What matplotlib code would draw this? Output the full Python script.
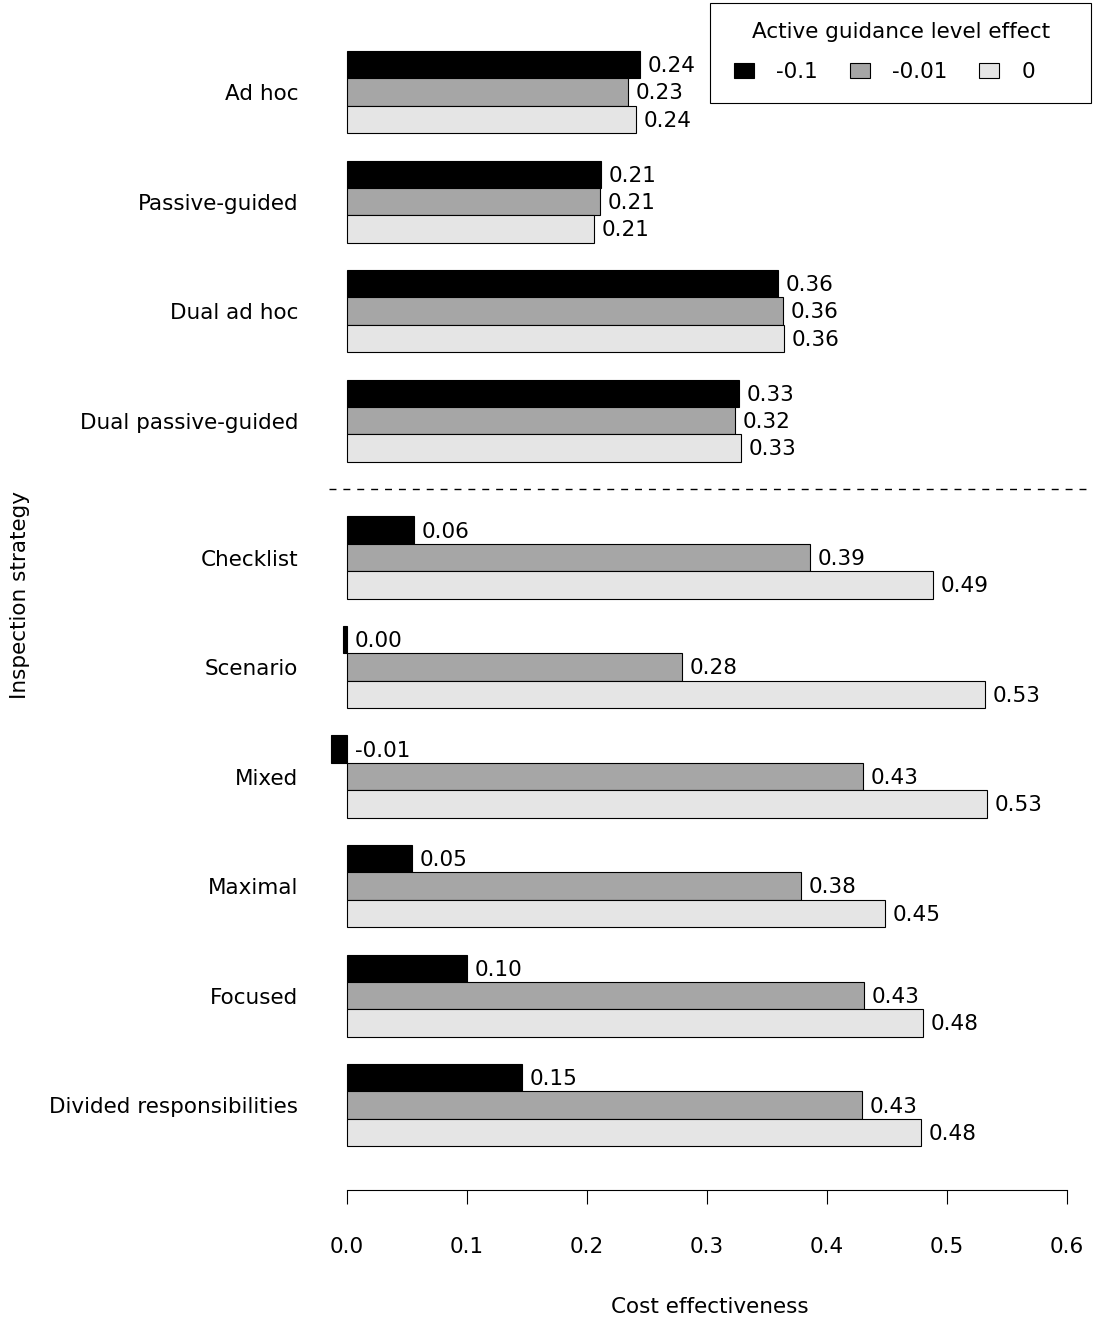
import numpy as np
import matplotlib
matplotlib.use("Agg")
import matplotlib.pyplot as plt
from matplotlib.patches import Patch, Rectangle

# --- data ---
strategies = ["Ad hoc", "Passive-guided", "Dual ad hoc", "Dual passive-guided",
              "Checklist", "Scenario", "Mixed", "Maximal", "Focused",
              "Divided responsibilities"]
effect_levels = ["-0.1", "-0.01", "0"]
ce_m010 = [0.244, 0.212, 0.359, 0.327, 0.056, -0.003, -0.013, 0.054, 0.100, 0.146]
ce_m001 = [0.234, 0.211, 0.363, 0.323, 0.386, 0.279, 0.430, 0.378, 0.431, 0.429]
ce_0 = [0.241, 0.206, 0.364, 0.328, 0.488, 0.532, 0.533, 0.448, 0.480, 0.478]
xticks = [0.0, 0.1, 0.2, 0.3, 0.4, 0.5, 0.6]

colors = ["#000000", "#A6A6A6", "#E5E5E5"]
FS = 15.5
plt.rcParams['font.family'] = ['DejaVu Sans']
plt.rcParams['font.size'] = FS

W, H = 1096, 1321
fig = plt.figure(figsize=(W / 100, H / 100), dpi=100)

# axes placement in pixels: left 329, right 1091, top 23.6, bottom 1190
ax = fig.add_axes([329 / W, 1 - 1190 / H, (1091 - 329) / W, (1190 - 23.6) / H])


def lab(v):
    s = f"{v:.2f}"
    return "0.00" if s == "-0.00" else s


series = [ce_m010, ce_m001, ce_0]
centers = []
for i in range(len(strategies)):
    g = i * 4 + 1 + (1 if i >= 4 else 0)
    centers.append(g + 1.5)
    for k, vals in enumerate(series):
        y = g + 0.5 + k
        v = vals[i]
        ax.barh(y, v, height=1.0, color=colors[k], edgecolor="black", linewidth=0.8)
        ax.annotate(lab(v), (max(v, 0), y), textcoords="offset points",
                    xytext=(5.5, -1), ha="left", va="center", fontsize=FS)

# separator between the two strategy families
ax.axhline(17, color="black", linewidth=1.0, linestyle=(0, (5, 5)))

ax.set_xlim(-0.015, 0.62)
ax.set_ylim(42.6, 0)

for s in ["top", "right", "left"]:
    ax.spines[s].set_visible(False)
ax.spines["bottom"].set_bounds(0, 0.6)
ax.spines["bottom"].set_linewidth(0.8)
ax.set_xticks(xticks)
ax.set_xticklabels([f"{t:.1f}" for t in xticks])
ax.tick_params(axis="x", direction="out", length=10, width=0.8, pad=23.6, labelsize=FS)
ax.set_yticks(centers)
ax.set_yticklabels(strategies)
ax.tick_params(axis="y", length=0, pad=22, labelsize=FS)
ax.set_xlabel("Cost effectiveness", fontsize=FS, labelpad=29)

fig.text(20 / W, 1 - 595 / H, "Inspection strategy", rotation=90,
         ha="center", va="center", fontsize=FS)

# legend: R-style box, centred title, entries left-aligned below it
fig.patches.append(Rectangle((710 / W, 1 - 103 / H), (1091 - 710) / W, 100 / H,
                             transform=fig.transFigure, fill=True, facecolor="white",
                             edgecolor="black", linewidth=0.8, zorder=4))
fig.text(901 / W, 1 - 32 / H, "Active guidance level effect", ha="center",
         va="center", fontsize=FS, zorder=5)
handles = [Patch(facecolor=c, edgecolor="black", linewidth=0.8) for c in colors]
leg = fig.legend(handles, effect_levels, loc="center left",
                 bbox_to_anchor=(734 / W, 1 - 72 / H),
                 ncol=3, frameon=False, fontsize=FS,
                 handlelength=0.93, handleheight=0.7, handletextpad=1.02,
                 columnspacing=1.49, borderpad=0, borderaxespad=0)
leg.set_zorder(5)

fig.savefig("out.png", dpi=100)
